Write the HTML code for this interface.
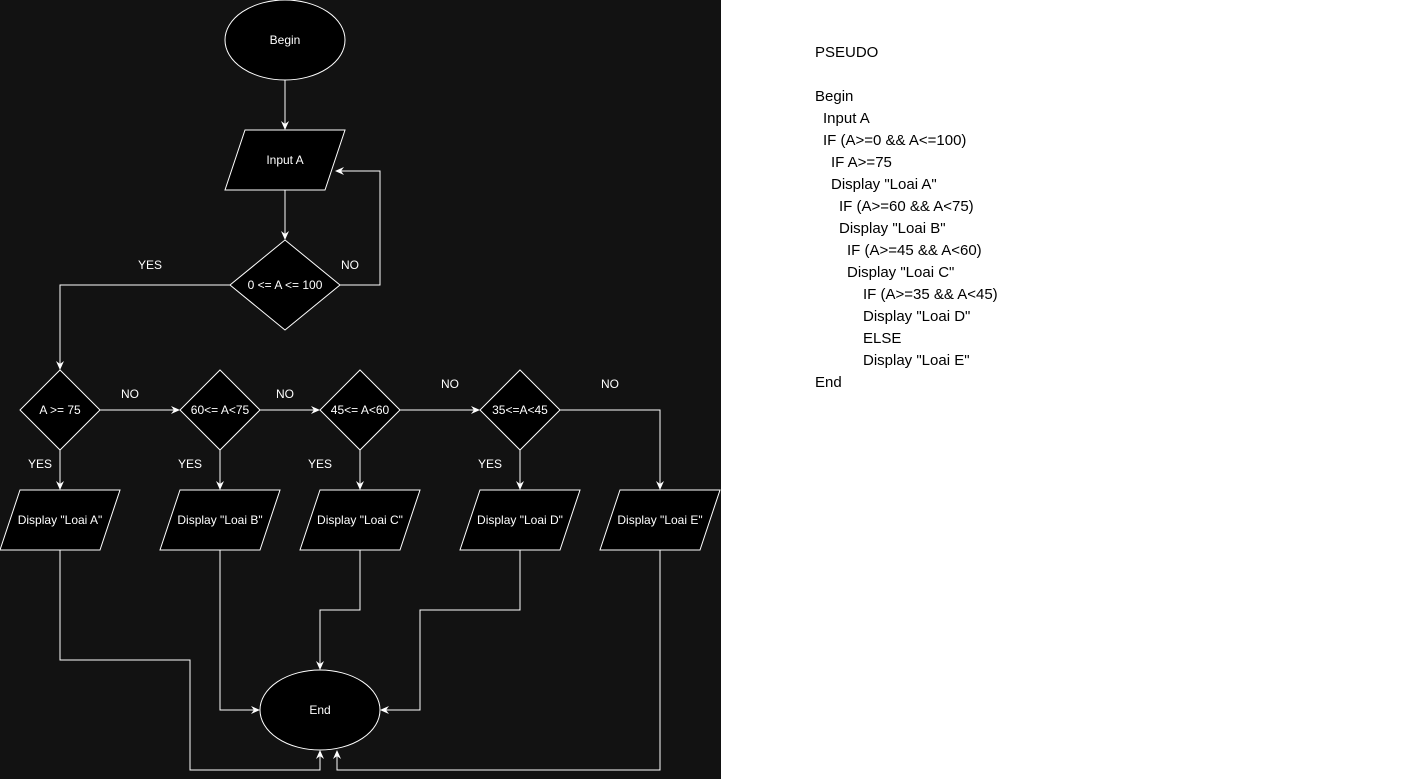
<!DOCTYPE html>
<html><head><meta charset="utf-8"><style>
html,body{margin:0;padding:0;background:#fff;width:1415px;height:779px;overflow:hidden}
svg{position:absolute;left:0;top:0}
.p{position:absolute;left:815px;top:42px;font-family:"Liberation Sans",sans-serif;font-size:15px;line-height:22px;color:#000}
.p div{height:22px;white-space:pre}
</style></head><body>
<svg width="721" height="779" viewBox="0 0 721 779">
<defs><marker id="a" markerWidth="10" markerHeight="10" refX="8" refY="5" orient="auto" markerUnits="userSpaceOnUse"><path d="M0,1 L9,5 L0,9 L3,5 Z" fill="#fff"/></marker></defs>
<rect width="721" height="779" fill="#121212"/>
<g stroke="#fff" stroke-width="1" fill="#000">
<ellipse cx="285" cy="40" rx="60" ry="40"/>
<polygon points="245,130 345,130 325,190 225,190"/>
<polygon points="285,240 340,285 285,330 230,285"/>
<polygon points="60,370 100,410 60,450 20,410"/>
<polygon points="220,370 260,410 220,450 180,410"/>
<polygon points="360,370 400,410 360,450 320,410"/>
<polygon points="520,370 560,410 520,450 480,410"/>
<polygon points="20,490 120,490 100,550 0,550"/>
<polygon points="180,490 280,490 260,550 160,550"/>
<polygon points="320,490 420,490 400,550 300,550"/>
<polygon points="480,490 580,490 560,550 460,550"/>
<polygon points="620,490 720,490 700,550 600,550"/>
<ellipse cx="320" cy="710" rx="60" ry="40"/>
</g>
<g stroke="#fff" stroke-width="1" fill="none" marker-end="url(#a)">
<path d="M285,80 V129"/>
<path d="M285,190 V239"/>
<path d="M340,285 H380 V171 H336"/>
<path d="M230,285 H60 V369"/>
<path d="M100,410 H179"/>
<path d="M260,410 H319"/>
<path d="M400,410 H479"/>
<path d="M560,410 H660 V489"/>
<path d="M60,450 V489"/><path d="M220,450 V489"/><path d="M360,450 V489"/><path d="M520,450 V489"/>
<path d="M60,550 V660 H190 V770 H320 V751"/>
<path d="M220,550 V710 H259"/>
<path d="M360,550 V610 H320 V669"/>
<path d="M520,550 V610 H420 V710 H381"/>
<path d="M660,550 V770 H337 V751"/>
</g>
<g font-family="Liberation Sans,sans-serif" font-size="12" fill="#fff" text-anchor="middle" dominant-baseline="central">
<text x="285" y="40">Begin</text>
<text x="285" y="160">Input A</text>
<text x="285" y="285">0 &lt;= A &lt;= 100</text>
<text x="60" y="410">A &gt;= 75</text>
<text x="220" y="410">60&lt;= A&lt;75</text>
<text x="360" y="410">45&lt;= A&lt;60</text>
<text x="520" y="410">35&lt;=A&lt;45</text>
<text x="60" y="520">Display "Loai A"</text>
<text x="220" y="520">Display "Loai B"</text>
<text x="360" y="520">Display "Loai C"</text>
<text x="520" y="520">Display "Loai D"</text>
<text x="660" y="520">Display "Loai E"</text>
<text x="320" y="710">End</text>
<text x="150" y="265">YES</text>
<text x="350" y="265">NO</text>
<text x="130" y="394">NO</text>
<text x="285" y="394">NO</text>
<text x="450" y="384">NO</text>
<text x="610" y="384">NO</text>
<text x="40" y="464">YES</text>
<text x="190" y="464">YES</text>
<text x="320" y="464">YES</text>
<text x="490" y="464">YES</text>
</g>
</svg>
<div class="p">
<div>PSEUDO</div>
<div></div>
<div>Begin</div>
<div style="padding-left:8px">Input A</div>
<div style="padding-left:8px">IF (A&gt;=0 &amp;&amp; A&lt;=100)</div>
<div style="padding-left:16px">IF A&gt;=75</div>
<div style="padding-left:16px">Display "Loai A"</div>
<div style="padding-left:24px">IF (A&gt;=60 &amp;&amp; A&lt;75)</div>
<div style="padding-left:24px">Display "Loai B"</div>
<div style="padding-left:32px">IF (A&gt;=45 &amp;&amp; A&lt;60)</div>
<div style="padding-left:32px">Display "Loai C"</div>
<div style="padding-left:48px">IF (A&gt;=35 &amp;&amp; A&lt;45)</div>
<div style="padding-left:48px">Display "Loai D"</div>
<div style="padding-left:48px">ELSE</div>
<div style="padding-left:48px">Display "Loai E"</div>
<div>End</div>
</div>
</body></html>
